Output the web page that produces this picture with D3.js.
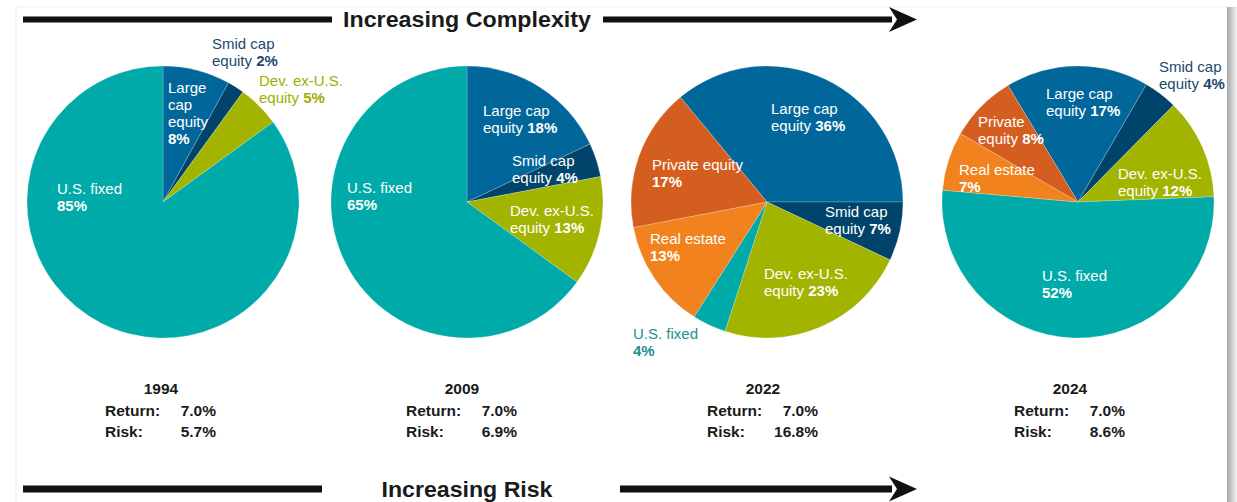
<!DOCTYPE html>
<html>
<head>
<meta charset="utf-8">
<script src="https://cdn.jsdelivr.net/npm/d3@7"></script>
<style>
  body { margin: 0; background: #fff; }
  svg text { font-family: "Liberation Sans", Arial, sans-serif; }
</style>
</head>
<body>
<div id="chart"></div>
<script>
// data
var years = ["1994", "2009", "2022", "2024"];
var assetClasses = ["Large cap equity", "Smid cap equity", "Dev. ex-U.S. equity",
                    "U.S. fixed", "Real estate", "Private equity"];
var weights1994 = [8, 2, 5, 85, 0, 0];
var weights2009 = [18, 4, 13, 65, 0, 0];
var weights2022 = [36, 7, 23, 4, 13, 17];
var weights2024 = [17, 4, 12, 52, 7, 8];
var returns = ["7.0%", "7.0%", "7.0%", "7.0%"];
var risks = ["5.7%", "6.9%", "16.8%", "8.6%"];

var allWeights = [weights1994, weights2009, weights2022, weights2024];

// look
var colors = ["#01679b", "#00446b", "#a3b400", "#00aaa8", "#f1821e", "#d45e20"];
var outsideText = ["#01679b", "#1b4a6e", "#9cb000", "#1a918e", "#f1821e", "#d45e20"];

var width = 1237, height = 502;
var radius = 136, cy = 202;
var centers = [163, 467, 767, 1078];
var textCenters = [161, 462, 763, 1070];
var startDeg = [0, 0, -39.6, -31];

// label layout: offsets from the pie centre, {p} = bold percentage
var labelLayout = [
  [
    {i: 1, dx: 49, dy: -159, out: true, lines: ["Smid cap", "equity {p}"]},
    {i: 2, dx: 96, dy: -122, out: true, lines: ["Dev. ex-U.S.", "equity {p}"]},
    {i: 0, dx: 5, dy: -115, lines: ["Large", "cap", "equity", "{p}"]},
    {i: 3, dx: -106, dy: -14, lines: ["U.S. fixed", "{p}"]}
  ],
  [
    {i: 0, dx: 16, dy: -92, lines: ["Large cap", "equity {p}"]},
    {i: 1, dx: 45, dy: -42, lines: ["Smid cap", "equity {p}"]},
    {i: 2, dx: 43, dy: 8, lines: ["Dev. ex-U.S.", "equity {p}"]},
    {i: 3, dx: -120, dy: -15, lines: ["U.S. fixed", "{p}"]}
  ],
  [
    {i: 0, dx: 4, dy: -94, lines: ["Large cap", "equity {p}"]},
    {i: 1, dx: 58, dy: 9, lines: ["Smid cap", "equity {p}"]},
    {i: 2, dx: -3, dy: 71, lines: ["Dev. ex-U.S.", "equity {p}"]},
    {i: 5, dx: -115, dy: -38, lines: ["Private equity", "{p}"]},
    {i: 4, dx: -117, dy: 36, lines: ["Real estate", "{p}"]},
    {i: 3, dx: -134, dy: 131, out: true, lines: ["U.S. fixed", "{p}"]}
  ],
  [
    {i: 1, dx: 81, dy: -136, out: true, lines: ["Smid cap", "equity {p}"]},
    {i: 0, dx: -32, dy: -109, lines: ["Large cap", "equity {p}"]},
    {i: 5, dx: -100, dy: -81, lines: ["Private", "equity {p}"]},
    {i: 4, dx: -119, dy: -33, lines: ["Real estate", "{p}"]},
    {i: 2, dx: 40, dy: -29, lines: ["Dev. ex-U.S.", "equity {p}"]},
    {i: 3, dx: -36, dy: 73, lines: ["U.S. fixed", "{p}"]}
  ]
];

var svg = d3.select("#chart")
  .append("svg")
    .attr("width", width)
    .attr("height", height);

// panel + right shadow
var defs = svg.append("defs");
var grad = defs.append("linearGradient").attr("id", "shade")
  .attr("x1", "0").attr("x2", "1").attr("y1", "0").attr("y2", "0");
grad.append("stop").attr("offset", "0").attr("stop-color", "#a9a9a9");
grad.append("stop").attr("offset", "1").attr("stop-color", "#f2f2f2");

svg.append("rect")
  .attr("x", 16).attr("y", 7)
  .attr("width", 1211).attr("height", height)
  .attr("fill", "#fff")
  .attr("stroke", "#f0f0f0");
svg.append("rect")
  .attr("x", 1227).attr("y", 7)
  .attr("width", 10).attr("height", height)
  .attr("fill", "url(#shade)");

var arc = d3.arc().innerRadius(0).outerRadius(radius);

allWeights.forEach(function(weights, k) {
  var rows = weights.map(function(v, i) { return {i: i, name: assetClasses[i], value: v}; })
    .filter(function(d) { return d.value > 0; });
  var s = startDeg[k] * Math.PI / 180;
  var pie = d3.pie()
    .sort(null)
    .value(function(d) { return d.value; })
    .startAngle(s)
    .endAngle(s + 2 * Math.PI);

  var g = svg.append("g")
    .attr("transform", "translate(" + centers[k] + "," + cy + ")");

  g.selectAll("path")
    .data(pie(rows))
    .enter()
    .append("path")
      .attr("d", arc)
      .attr("fill", function(d) { return colors[d.data.i]; })
      .attr("stroke", "#ffffff")
      .attr("stroke-opacity", 0.35)
      .attr("stroke-width", 0.6);

  // slice labels
  labelLayout[k].forEach(function(lab) {
    var pct = weights[lab.i] + "%";
    var t = g.append("text")
      .attr("font-size", 15)
      .attr("fill", lab.out ? outsideText[lab.i] : "#ffffff");
    lab.lines.forEach(function(line, j) {
      var parts = line.split("{p}");
      var ly = lab.dy + j * 17;
      if (parts[0] !== "") {
        t.append("tspan")
          .attr("x", lab.dx)
          .attr("y", ly)
          .attr("dominant-baseline", "central")
          .text(parts[0]);
      }
      if (parts.length > 1) {
        var b = t.append("tspan")
          .attr("font-weight", "bold")
          .attr("dominant-baseline", "central")
          .text(pct);
        if (parts[0] === "") b.attr("x", lab.dx).attr("y", ly);
      }
    });
  });

  // year / return / risk
  var tc = textCenters[k];
  var info = svg.append("g").attr("fill", "#1a1a1a").attr("font-weight", "bold").attr("font-size", 15.5);
  info.append("text")
    .attr("x", tc).attr("y", 388)
    .attr("text-anchor", "middle")
    .attr("dominant-baseline", "central")
    .text(years[k]);
  [["Return:", returns[k], 410], ["Risk:", risks[k], 431]].forEach(function(r) {
    info.append("text")
      .attr("x", tc - 56).attr("y", r[2])
      .attr("dominant-baseline", "central")
      .text(r[0]);
    info.append("text")
      .attr("x", tc + 55).attr("y", r[2])
      .attr("text-anchor", "end")
      .attr("dominant-baseline", "central")
      .text(r[1]);
  });
});

// arrows
function arrow(x0, x1, x2, y, thick, title, tx, tlen) {
  var a = svg.append("g").attr("fill", "#111");
  a.append("rect").attr("x", x0).attr("y", y - thick / 2).attr("width", x1 - x0).attr("height", thick);
  a.append("rect").attr("x", x2).attr("y", y - thick / 2).attr("width", 892 - x2).attr("height", thick);
  a.append("path")
    .attr("d", "M889," + (y - 12.5) + "L917," + y + "L889," + (y + 12.5) + "L897," + y + "Z");
  a.append("text")
    .attr("x", tx).attr("y", y)
    .attr("text-anchor", "middle")
    .attr("dominant-baseline", "central")
    .attr("font-size", 22)
    .attr("font-weight", "bold")
    .attr("fill", "#1a1a1a")
    .attr("textLength", tlen)
    .attr("lengthAdjust", "spacingAndGlyphs")
    .text(title);
}
arrow(23, 332, 603, 19.5, 6, "Increasing Complexity", 467, 248);
arrow(23, 322, 620, 489, 7, "Increasing Risk", 467, 171);
</script>
</body>
</html>
